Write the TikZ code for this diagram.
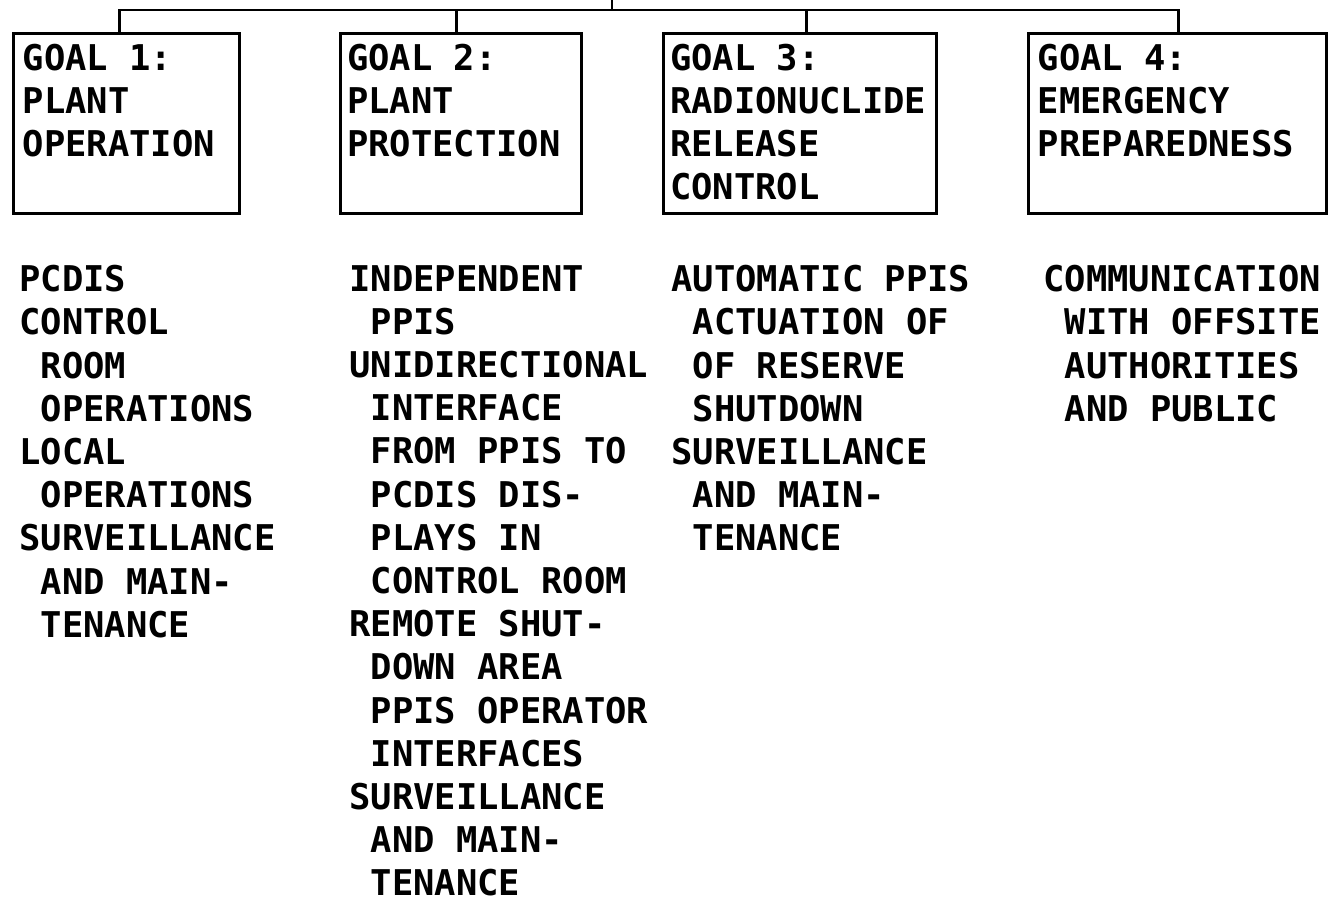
\documentclass[tikz,border=0pt]{standalone}
\usepackage{fontspec}
\newfontfamily\plotfont{DejaVu Sans Mono}
\usetikzlibrary{positioning,calc}

\newcommand{\ind}{\hphantom{X}}

\begin{document}
\begin{tikzpicture}[x=0.75pt,y=-0.75pt,line width=2pt,
  goalbox/.style={draw,anchor=north west,minimum height=135pt,inner sep=0pt},
  plottext/.style={anchor=north west,align=left,inner sep=0pt,
    font=\plotfont\bfseries\fontsize{26.6}{32.4}\selectfont}]
  \useasboundingbox (0,0) rectangle (1331,902);
  % goal boxes
  \node[goalbox,minimum width=169.5pt] (g1) at (12,32) {};
  \node[goalbox,minimum width=180.75pt] (g2) at (339,32) {};
  \node[goalbox,minimum width=204.75pt] (g3) at (662,32) {};
  \node[goalbox,minimum width=223.5pt] (g4) at (1027,32) {};
  \node[plottext] (t1) at ([xshift=7pt,yshift=-8pt]g1.north west) {GOAL 1:\\PLANT\\OPERATION};
  \node[plottext] (t2) at ([xshift=5pt,yshift=-8pt]g2.north west) {GOAL 2:\\PLANT\\PROTECTION};
  \node[plottext] (t3) at ([xshift=5pt,yshift=-8pt]g3.north west) {GOAL 3:\\RADIONUCLIDE\\RELEASE\\CONTROL};
  \node[plottext] (t4) at ([xshift=7pt,yshift=-8pt]g4.north west) {GOAL 4:\\EMERGENCY\\PREPAREDNESS};
  % tree on top
  \coordinate (top) at (612,0);
  \coordinate (bar) at (612,10);
  \coordinate (d1) at ([xshift=-5.25pt]g1.north);
  \coordinate (d2) at ([xshift=-3.4pt]g2.north);
  \coordinate (d3) at ([xshift=4.9pt]g3.north);
  \coordinate (d4) at ([xshift=0.75pt]g4.north);
  \draw (d1) |- (bar) -| (d4);
  \draw (d2) -- (d2 |- bar);
  \draw (d3) -- (d3 |- bar);
  \draw (bar) -- (top);
  % lists under the goals
  \node[plottext] (l1) at (18,264) {PCDIS\\CONTROL\\\ind ROOM\\\ind OPERATIONS\\LOCAL\\\ind OPERATIONS\\SURVEILLANCE\\\ind AND MAIN-\\\ind TENANCE};
  \node[plottext] (l2) at (348,264) {INDEPENDENT\\\ind PPIS\\UNIDIRECTIONAL\\\ind INTERFACE\\\ind FROM PPIS TO\\\ind PCDIS DIS-\\\ind PLAYS IN\\\ind CONTROL ROOM\\REMOTE SHUT-\\\ind DOWN AREA\\\ind PPIS OPERATOR\\\ind INTERFACES\\SURVEILLANCE\\\ind AND MAIN-\\\ind TENANCE};
  \node[plottext] (l3) at (670,264) {AUTOMATIC PPIS\\\ind ACTUATION OF\\\ind OF RESERVE\\\ind SHUTDOWN\\SURVEILLANCE\\\ind AND MAIN-\\\ind TENANCE};
  \node[plottext] (l4) at (1042,264) {COMMUNICATION\\\ind WITH OFFSITE\\\ind AUTHORITIES\\\ind AND PUBLIC};
\end{tikzpicture}
\end{document}
